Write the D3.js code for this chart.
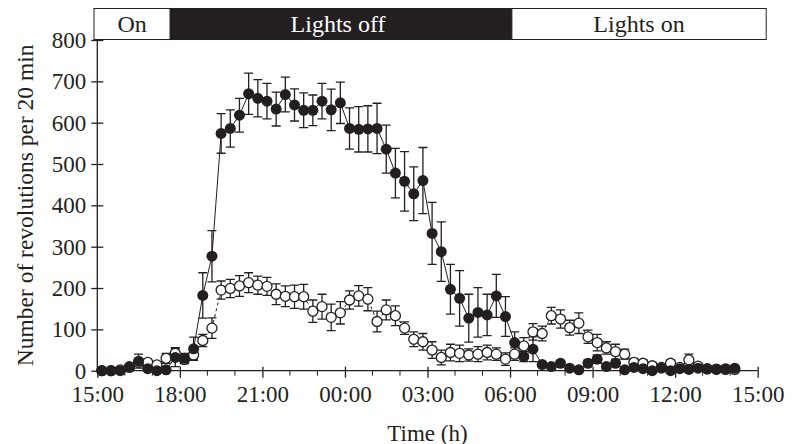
<!DOCTYPE html>
<html>
<head>
<meta charset="utf-8">
<script src="https://cdn.jsdelivr.net/npm/d3@7"></script>
<style>
  body { margin: 0; background: #fff; }
  text { font-family: "Liberation Serif", "Times New Roman", serif; fill: #231f20; }
</style>
</head>
<body>
<svg width="804" height="444"></svg>
<script>
// Data: 20-min bins (bin centre), revolutions per 20 min, mean and SE
var times = [
	"15:10","15:30","15:50","16:10","16:30","16:50","17:10","17:30","17:50","18:10",
	"18:30","18:50","19:10","19:30","19:50","20:10","20:30","20:50","21:10","21:30",
	"21:50","22:10","22:30","22:50","23:10","23:30","23:50","00:10","00:30","00:50",
	"01:10","01:30","01:50","02:10","02:30","02:50","03:10","03:30","03:50","04:10",
	"04:30","04:50","05:10","05:30","05:50","06:10","06:30","06:50","07:10","07:30",
	"07:50","08:10","08:30","08:50","09:10","09:30","09:50","10:10","10:30","10:50",
	"11:10","11:30","11:50","12:10","12:30","12:50","13:10","13:30","13:50","14:10"];

var filledMean = [
	0, 0, 0, 10, 23, 5, 0, 2, 32, 30,
	53, 182, 277, 574, 586, 618, 670, 659, 652, 633,
	668, 643, 630, 630, 652, 631, 648, 586, 584, 585,
	586, 536, 478, 458, 428, 460, 332, 288, 197, 175,
	127, 141, 135, 181, 131, 68, 34, 52, 15, 10,
	18, 6, 2, 18, 28, 10, 18, 2, 8, 5,
	0, 6, 0, 5, 3, 6, 4, 3, 5, 6];
var filledSE = [
	3, 3, 3, 5, 17, 5, 3, 3, 22, 12,
	28, 55, 62, 48, 45, 41, 50, 45, 43, 41,
	42, 39, 42, 37, 43, 50, 50, 50, 55, 56,
	61, 58, 60, 72, 65, 80, 75, 72, 60, 67,
	58, 60, 50, 52, 48, 26, 12, 30, 5, 5,
	6, 4, 3, 8, 10, 5, 6, 4, 5, 3,
	3, 4, 3, 4, 3, 4, 3, 3, 3, 3];

var openMean = [
	0, 0, 2, 8, 20, 20, 14, 30, 42, 27,
	38, 73, 103, 195, 199, 205, 213, 207, 204, 185,
	180, 179, 179, 144, 155, 129, 140, 171, 181, 173,
	119, 147, 133, 103, 76, 70, 50, 32, 44, 42,
	38, 40, 44, 40, 28, 40, 60, 94, 90, 133,
	125, 104, 115, 82, 68, 55, 46, 40, 20, 18,
	12, 8, 18, 8, 26, 11, 5, 4, 3, 3];
var openSE = [
	2, 2, 3, 5, 8, 8, 8, 12, 14, 10,
	10, 15, 25, 22, 22, 25, 24, 22, 22, 25,
	25, 28, 30, 27, 30, 32, 27, 22, 25, 28,
	25, 24, 24, 15, 18, 20, 20, 18, 20, 20,
	15, 18, 18, 15, 15, 15, 20, 20, 18, 20,
	22, 18, 25, 16, 20, 15, 18, 12, 10, 8,
	8, 6, 8, 6, 14, 6, 4, 3, 3, 3];

// Light phases, hours after 15:00
var phaseLabels = ["On", "Lights off", "Lights on"],
	phaseStart = [0, 2.65, 15.07],
	phaseEnd = [2.65, 15.07, 24],
	phaseDark = [false, true, false];

var yTicks = [0, 100, 200, 300, 400, 500, 600, 700, 800];

// ------------- //
// Visualization //
// ------------- //

var svg = d3.select("svg");

var margin = {left: 97.3, right: 757.7, top: 40, bottom: 370.7};

var t0 = new Date(2000, 0, 1, 15, 0);

function toDate(s) {
	var hm = s.split(":").map(Number);
	var d = new Date(2000, 0, 1, hm[0], hm[1]);
	if (d < t0) d = d3.timeDay.offset(d, 1);
	return d;
}

var x = d3.scaleTime()
	.domain([t0, d3.timeHour.offset(t0, 24)])
	.range([margin.left, margin.right]);

var y = d3.scaleLinear()
	.domain([0, 800])
	.range([margin.bottom, margin.top]);

function series(mean, se) {
	return times.map(function(t, i) {
		return {t: toDate(t), v: mean[i], se: se[i]};
	});
}

var filled = series(filledMean, filledSE),
	open = series(openMean, openSE);

// Light bar
var bar = svg.append("g").attr("class", "lightbar");
var barTop = 8.5, barH = 31;

bar.selectAll("rect")
	.data(phaseLabels).enter()
	.append("rect")
	.attr("x", function(d, i) {
		return x(d3.timeMinute.offset(t0, phaseStart[i] * 60)) - (i == 0 ? 3.3 : 0);
	})
	.attr("width", function(d, i) {
		var a = x(d3.timeMinute.offset(t0, phaseStart[i] * 60)) - (i == 0 ? 3.3 : 0),
			b = x(d3.timeMinute.offset(t0, phaseEnd[i] * 60)) + (i == 2 ? 8.5 : 0);
		return b - a;
	})
	.attr("y", barTop)
	.attr("height", barH)
	.attr("fill", function(d, i) { return phaseDark[i] ? "#231f20" : "#fff"; })
	.attr("stroke", "#231f20")
	.attr("stroke-width", 1);

bar.selectAll("text")
	.data(phaseLabels).enter()
	.append("text")
	.attr("x", function(d, i) {
		var a = x(d3.timeMinute.offset(t0, phaseStart[i] * 60)) - (i == 0 ? 3.3 : 0),
			b = x(d3.timeMinute.offset(t0, phaseEnd[i] * 60)) + (i == 2 ? 8.5 : 0);
		return (a + b) / 2 - (i == 1 ? 3 : 0);
	})
	.attr("y", 31.5)
	.attr("text-anchor", "middle")
	.attr("font-size", 24)
	.style("fill", function(d, i) { return phaseDark[i] ? "#fff" : "#231f20"; })
	.text(function(d) { return d; });

// Axes
var yAxis = svg.append("g")
	.attr("transform", "translate(" + margin.left + ",0)")
	.call(d3.axisLeft(y).tickValues(yTicks).tickSize(6).tickPadding(5));
yAxis.selectAll(".tick line").attr("x2", 6).attr("x1", -6);
yAxis.select(".domain").attr("d", "M0," + y(0) + "V" + y(800));

var xAxis = svg.append("g")
	.attr("transform", "translate(0," + margin.bottom + ")")
	.call(d3.axisBottom(x)
		.ticks(d3.timeHour.every(3))
		.tickFormat(d3.timeFormat("%H:%M"))
		.tickSize(7).tickPadding(8));
xAxis.selectAll(".tick line").attr("y1", -4);
xAxis.select(".domain").attr("d", "M" + (margin.left - 1) + ",0H" + margin.right);

// Minor hourly ticks
xAxis.selectAll(".minor")
	.data(x.ticks(d3.timeHour.every(1)).filter(function(d) { return d.getHours() % 3 != 0; }))
	.enter().append("line")
	.attr("class", "minor")
	.attr("x1", function(d) { return x(d); })
	.attr("x2", function(d) { return x(d); })
	.attr("y1", 0)
	.attr("y2", 5)
	.attr("stroke", "#231f20");

svg.selectAll(".domain, .tick line").attr("stroke", "#231f20").attr("stroke-width", 1.3);
svg.selectAll(".tick text")
	.attr("font-size", 23)
	.attr("font-family", "Liberation Serif, Times New Roman, serif")
	.style("fill", "#231f20");

// Axis titles
svg.append("text")
	.attr("x", (margin.left + margin.right) / 2)
	.attr("y", 440.5)
	.attr("text-anchor", "middle")
	.attr("font-size", 23)
	.text("Time (h)");

svg.append("text")
	.attr("transform", "translate(33," + (margin.top + margin.bottom) / 2 + ") rotate(-90)")
	.attr("text-anchor", "middle")
	.attr("font-size", 23.5)
	.text("Number of revolutions per 20 min");

// Plot series
var g = svg.append("g");
var cap = 4.5, r = 5;

function drawErrors(data) {
	var eg = g.append("g").attr("stroke", "#231f20").attr("stroke-width", 1.3).attr("fill", "none");
	eg.selectAll("path")
		.data(data).enter()
		.append("path")
		.attr("d", function(d) {
			var cx = x(d.t), top = y(d.v + d.se), bot = y(Math.max(0, d.v - d.se));
			return "M" + cx + "," + top + "V" + bot +
				"M" + (cx - cap) + "," + top + "H" + (cx + cap) +
				"M" + (cx - cap) + "," + bot + "H" + (cx + cap);
		});
}

var line = d3.line()
	.x(function(d) { return x(d.t); })
	.y(function(d) { return y(d.v); });

drawErrors(open);
drawErrors(filled);

g.append("path")
	.datum(open)
	.attr("d", line)
	.attr("fill", "none")
	.attr("stroke", "#231f20")
	.attr("stroke-width", 1)
	.attr("stroke-dasharray", "3,3");

g.append("path")
	.datum(filled)
	.attr("d", line)
	.attr("fill", "none")
	.attr("stroke", "#231f20")
	.attr("stroke-width", 1);

g.append("g").selectAll("circle")
	.data(open).enter()
	.append("circle")
	.attr("cx", function(d) { return x(d.t); })
	.attr("cy", function(d) { return y(d.v); })
	.attr("r", r)
	.attr("fill", "#fff")
	.attr("stroke", "#231f20")
	.attr("stroke-width", 1.3);

g.append("g").selectAll("circle")
	.data(filled).enter()
	.append("circle")
	.attr("cx", function(d) { return x(d.t); })
	.attr("cy", function(d) { return y(d.v); })
	.attr("r", r + 0.5)
	.attr("fill", "#231f20");
</script>
</body>
</html>
